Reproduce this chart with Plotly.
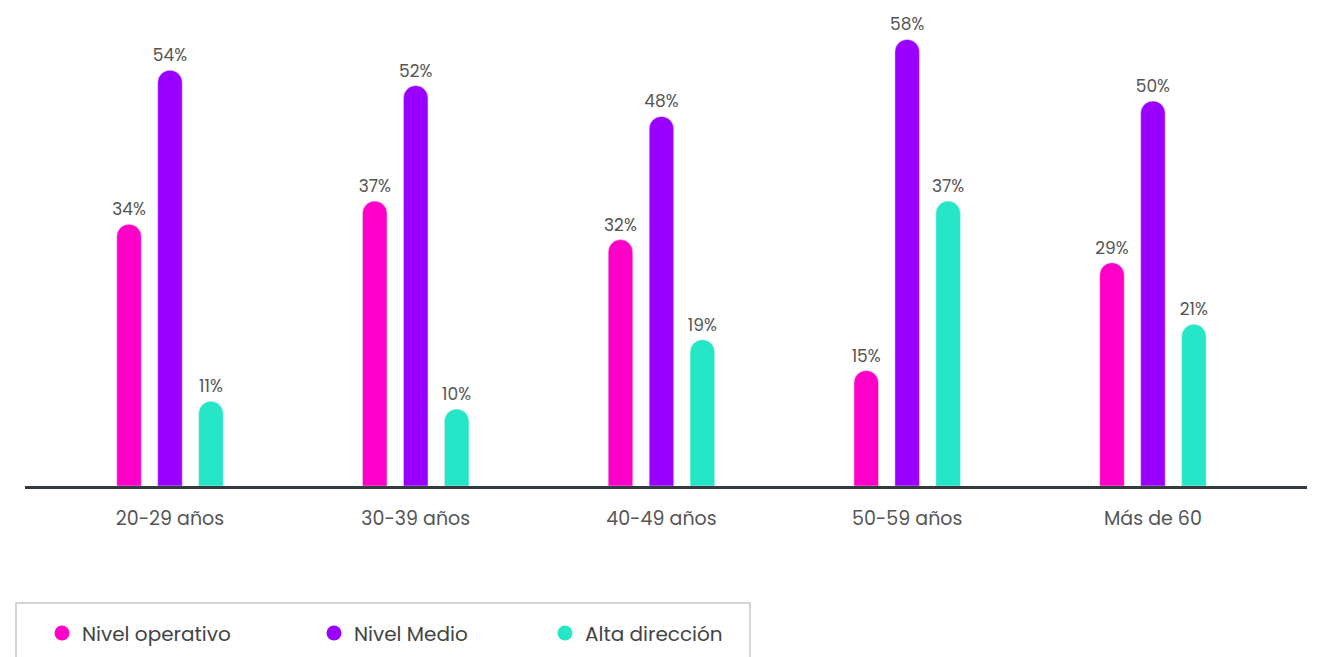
import plotly.graph_objects as go

categories = ["20-29 años", "30-39 años", "40-49 años", "50-59 años", "Más de 60"]
series_names = ["Nivel operativo", "Nivel Medio", "Alta dirección"]
nivel_operativo = [34, 37, 32, 15, 29]
nivel_medio = [54, 52, 48, 58, 50]
alta_direccion = [11, 10, 19, 37, 21]

values = [nivel_operativo, nivel_medio, alta_direccion]
colors = ["#FF00C8", "#9A00FF", "#25E6C6"]
legend_ids = ["legend", "legend2", "legend3"]

W, H = 1322, 657
OFF = 8  # page body margin offset
ml, mr, mt, mb = 25 - OFF, 23, 0, 179
pw, ph = W - ml - mr, H - mt - mb

def px_x(p):
    return (p - OFF - ml) / pw

def px_y(p):
    return (H - mb - (p - OFF)) / ph

FONT = "Poppins, Inter, 'Open Sans', sans-serif"

fig = go.Figure()
for name, vals, col in zip(series_names, values, colors):
    fig.add_trace(go.Bar(
        x=categories, y=vals, name=name, marker_color=col,
        text=[f"{v}%" for v in vals], textposition="outside",
        constraintext="none",
        textfont=dict(size=17, color="#555555", family=FONT),
        cliponaxis=False, showlegend=False,
    ))
for name, col, lid in zip(series_names, colors, legend_ids):
    fig.add_trace(go.Scatter(
        x=[None], y=[None], mode="markers", name=name,
        marker=dict(symbol="circle", size=15, color=col),
        legend=lid, showlegend=True,
    ))

leg_common = dict(orientation="h", yanchor="middle", xanchor="left",
                  y=px_y(633), font=dict(size=20, color="#444444", family=FONT),
                  bgcolor="rgba(0,0,0,0)")
fig.update_layout(
    width=W, height=H,
    margin=dict(l=ml, r=mr, t=mt, b=mb, pad=0),
    paper_bgcolor="white", plot_bgcolor="white",
    barmode="group", bargap=0.5, bargroupgap=0.4, barcornerradius="50%",
    xaxis=dict(
        type="category", range=[-0.59, 4.627],
        showgrid=False, zeroline=False,
        showline=True, linecolor="#333a40", linewidth=3,
        ticks="outside", ticklen=13, tickcolor="rgba(0,0,0,0)",
        tickfont=dict(size=19, color="#555555", family=FONT),
    ),
    yaxis=dict(range=[0, ph / 7.7], visible=False, showgrid=False, zeroline=False),
    legend=dict(x=px_x(42), **leg_common),
    legend2=dict(x=px_x(314), **leg_common),
    legend3=dict(x=px_x(545), **leg_common),
    shapes=[dict(type="rect", xref="paper", yref="paper",
                 x0=px_x(16), x1=px_x(750), y0=px_y(603), y1=px_y(690),
                 line=dict(color="#c8c8c8", width=1.5), fillcolor="rgba(0,0,0,0)",
                 layer="below")],
)

fig.write_html("out.html")
